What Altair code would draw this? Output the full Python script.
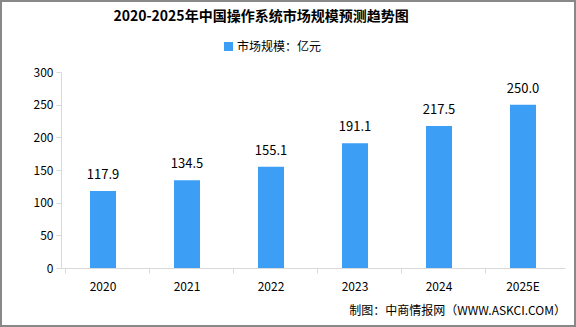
import altair as alt
import pandas as pd

years = ["2020", "2021", "2022", "2023", "2024", "2025E"]
values = [117.9, 134.5, 155.1, 191.1, 217.5, 250.0]
y_ticks = [0, 50, 100, 150, 200, 250, 300]
title_text = "2020-2025年中国操作系统市场规模预测趋势图"
legend_text = "市场规模：亿元"
source_text = "制图：中商情报网（WWW.ASKCI.COM）"

BLUE = "#3d9ef5"
FONT = "Noto Sans CJK SC"

df = pd.DataFrame({"year": years, "value": values})
df["label"] = [f"{v:.1f}" for v in values]

base = alt.Chart(df)

x_enc = alt.X("year:N", sort=years, title=None,
              axis=alt.Axis(labelAngle=0, domainColor="#d9d9d9", tickColor="#d9d9d9",
                            tickSize=5, labelPadding=8, labelFontSize=12, labelColor="#000",
                            labelFont=FONT, bandPosition=0, grid=False))
y_enc = alt.Y("value:Q", title=None, scale=alt.Scale(domain=[0, 300]),
              axis=alt.Axis(values=y_ticks, domainColor="#d9d9d9", tickColor="#d9d9d9",
                            tickSize=5, labelPadding=3, labelFontSize=12, labelColor="#000",
                            labelFont=FONT, grid=False, labelOverlap=False))

bars = base.mark_bar(size=26, color=BLUE).encode(x=x_enc, y=y_enc)

labels = base.mark_text(baseline="bottom", dy=-9, fontSize=13, font=FONT, color="#000").encode(
    x=x_enc, y=y_enc, text="label:N",
)

title = alt.Chart(pd.DataFrame({"t": [title_text]})).mark_text(
    fontSize=14, fontWeight="bold", font=FONT, color="#000", align="center", baseline="middle"
).encode(x=alt.value(200), y=alt.value(-55), text="t:N")

legend_sq = alt.Chart(pd.DataFrame({"t": [legend_text]})).mark_rect(color=BLUE).encode(
    x=alt.value(163), x2=alt.value(172), y=alt.value(-30), y2=alt.value(-21)
)
legend_txt = alt.Chart(pd.DataFrame({"t": [legend_text]})).mark_text(
    fontSize=12, font=FONT, color="#000", align="left", baseline="middle"
).encode(x=alt.value(176), y=alt.value(-25), text="t:N")

source = alt.Chart(pd.DataFrame({"t": [source_text]})).mark_text(
    fontSize=12, font=FONT, color="#000", align="right", baseline="middle"
).encode(x=alt.value(505), y=alt.value(43 + 196), text="t:N")

frame = alt.Chart(pd.DataFrame({"t": [0]})).mark_rect(
    fill=None, stroke="#888888", strokeWidth=2
).encode(x=alt.value(-60), x2=alt.value(514), y=alt.value(-71), y2=alt.value(254))

chart = alt.layer(frame, bars, labels, title, legend_sq, legend_txt, source).properties(
    width=504, height=196,
    autosize=alt.AutoSizeParams(type="none"),
    padding={"left": 61, "top": 72, "right": 11, "bottom": 59},
    background="white",
).configure_view(stroke=None)

chart.save("out.html", embed_options={"renderer": "svg", "actions": False})
